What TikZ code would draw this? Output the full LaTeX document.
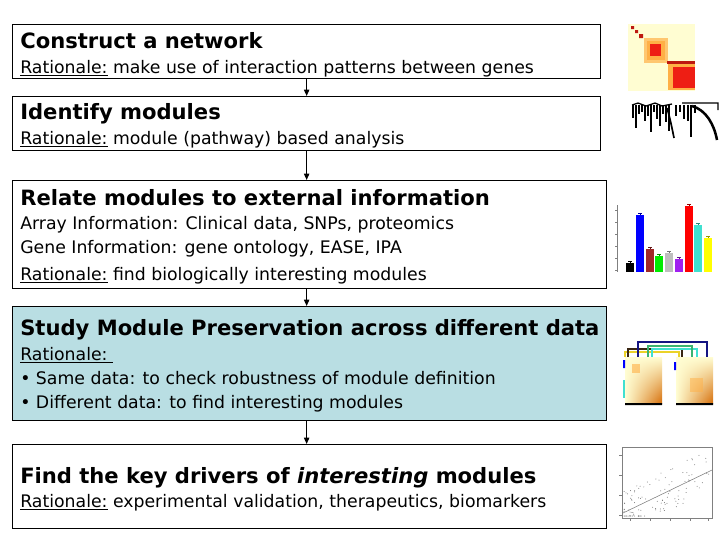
\documentclass[tikz,border=0pt]{standalone}
\usepackage{fontspec}
\setmainfont{DejaVu Sans}
\usepackage{tikz}
\usetikzlibrary{positioning,arrows.meta,shadings}
\usepackage{xcolor}
\definecolor{preservebg}{RGB}{185,222,227}
\definecolor{heatpale}{RGB}{255,253,210}
\definecolor{heatmid}{RGB}{255,176,70}
\definecolor{heatred}{RGB}{238,30,20}
\definecolor{heatdeep}{RGB}{214,110,10}
\definecolor{barblue}{RGB}{0,0,255}
\definecolor{barbrown}{RGB}{160,40,40}
\definecolor{bargreen}{RGB}{0,235,0}
\definecolor{bargray}{RGB}{190,190,190}
\definecolor{barpurple}{RGB}{160,32,240}
\definecolor{barcyan}{RGB}{64,224,208}
\definecolor{baryellow}{RGB}{255,255,0}
\definecolor{linknavy}{RGB}{20,20,130}
\definecolor{linkgreen}{RGB}{60,179,113}
\definecolor{linkgold}{RGB}{235,210,40}

\begin{document}
\begin{tikzpicture}[x=0.025cm,y=-0.025cm,
  stage/.style={draw=black,line width=0.8pt,anchor=north west,inner sep=0pt},
  headline/.style={anchor=base west,inner sep=0pt,font=\fontsize{15}{18}\selectfont\bfseries},
  detail/.style={anchor=base west,inner sep=0pt,font=\fontsize{12.3}{15}\selectfont},
  flow/.style={-{Triangle[length=4.5pt,width=3.8pt]},line width=0.8pt}]
\useasboundingbox (0,0) rectangle (720,540);

\node[stage,minimum width=14.7cm,minimum height=1.35cm] (network) at (12,24) {};
\node[stage,minimum width=14.7cm,minimum height=1.35cm] (modules) at (12,96) {};
\node[stage,minimum width=14.85cm,minimum height=2.7cm] (external) at (12,180) {};
\node[stage,fill=preservebg,minimum width=14.85cm,minimum height=2.85cm] (preserve) at (12,306) {};
\node[stage,minimum width=14.85cm,minimum height=2.1cm] (drivers) at (12,444) {};

\node[headline] (networkT) at (20,48) {Construct a network};
\node[detail] (networkR) at (20,73) {\underline{Rationale:} make use of interaction patterns between genes};
\node[headline] (modulesT) at (20,119) {Identify modules};
\node[detail] (modulesR) at (20,144) {\underline{Rationale:} module (pathway) based analysis};
\node[headline] (externalT) at (20,205) {Relate modules to external information};
\node[detail] (externalA) at (20,229) {Array Information: Clinical data, SNPs, proteomics};
\node[detail] (externalG) at (20,253) {Gene Information: gene ontology, EASE, IPA};
\node[detail] (externalR) at (20,280) {\underline{Rationale:} find biologically interesting modules};
\node[headline] (preserveT) at (20,335) {Study Module Preservation across different data};
\node[detail] (preserveR) at (20,360) {\underline{Rationale:\ }};
\node[detail] (preserveS) at (20,384) {• Same data: to check robustness of module definition};
\node[detail] (preserveD) at (20,408) {• Different data: to find interesting modules};
\node[headline] (driversT) at (20,483) {Find the key drivers of \textit{interesting} modules};
\node[detail] (driversR) at (20,507) {\underline{Rationale:} experimental validation, therapeutics, biomarkers};

\draw[flow] (network.south) -- (modules.north);
\draw[flow] (modules.south) -- (modules.south |- external.north);
\draw[flow] (external.south -| network.south) -- (preserve.north -| network.south);
\draw[flow] (preserve.south -| network.south) -- (drivers.north -| network.south);

\fill[heatpale] (628,24) rectangle (695,91);
\fill[heatred!80!black] (631,26) rectangle (634,29) (635,30) rectangle (638,33) (639,34) rectangle (643,38);
\fill[heatmid!70!heatpale] (644,38) rectangle (668,63);
\fill[heatmid] (647,41) rectangle (665,60);
\fill[heatred] (650,44) rectangle (661,56);
\fill[heatred!80!black] (667,61) rectangle (695,64);
\fill[heatmid] (668,64) rectangle (695,90);
\fill[heatred] (673,67) rectangle (695,88);

\draw[line width=0.9pt] (632,105) -- (638,103) -- (646,106) -- (655,103) -- (662,106) -- (672,104) (682,103) -- (718,103) -- (718,110);
\foreach \lx/\lb in {633/118,636/128,639/114,642/112,645/121,648/116,651/132,654/112,657/119,660/126,663/114,666/122,669/131,676/116,680/112,684/119,688/121,691/137,695/113}
  \draw[line width=0.9pt] (\lx,105) -- (\lx,\lb);
\draw[line width=1.8pt] (692,106) .. controls (706,110) and (714,124) .. (717,140);
\draw[line width=1.2pt] (667,108) .. controls (670,118) and (672,128) .. (674,138);

\draw[gray,line width=0.3pt] (617,205) -- (617,272);
\foreach \ty in {210,222,234,246,258,270}
  \draw[gray,line width=0.3pt] (615,\ty) -- (617,\ty);
\foreach \bx/\bt/\bc in {626/263/black,636/215/barblue,646/249/barbrown,655/256/bargreen,665/253/bargray,675/259/barpurple,685/206/red,694/225/barcyan,704/238/baryellow}{
  \fill[\bc] (\bx,272) rectangle ++(8,\bt-272);
  \draw[\bc!60!black,line width=0.4pt] (\bx+2,\bt-2) -- (\bx+6,\bt-2) (\bx+4,\bt-2) -- (\bx+4,\bt);
}

\draw[linkgold,line width=0.9pt] (625,357) -- (625,352) -- (679,352) -- (679,357);
\draw[black!70!brown,line width=0.9pt] (628,357) -- (628,349) -- (682,349) -- (682,357);
\draw[barcyan,line width=0.9pt] (652,357) -- (652,349) -- (697,349) -- (697,357);
\draw[linkgreen,line width=0.9pt] (648,357) -- (648,346) -- (692,346) -- (692,357);
\draw[linknavy,line width=0.9pt] (638,357) -- (638,342) -- (707,342) -- (707,357);
\shade[upper left=heatpale,upper right=heatpale,lower left=heatpale,lower right=heatdeep] (625,357) rectangle (662,403);
\shade[upper left=heatpale,upper right=heatpale,lower left=heatpale,lower right=heatdeep] (676,357) rectangle (713,403);
\fill[heatmid,opacity=0.6] (632,364) rectangle (640,373);
\fill[heatmid,opacity=0.5] (690,378) rectangle (703,392);
\fill[barblue] (623,360) rectangle (625,368) (674,362) rectangle (676,370);
\fill[barcyan] (623,380) rectangle (625,398);
\fill[black] (625,403) rectangle (662,405) (676,403) rectangle (713,405);

\draw[gray,line width=0.3pt] (622,447) rectangle (712,518);
\foreach \tx in {630,650,670,690,708}
  \draw[gray,line width=0.3pt] (\tx,518) -- (\tx,521);
\foreach \ty in {455,475,495,515}
  \draw[gray,line width=0.3pt] (619,\ty) -- (622,\ty);
\draw[gray,line width=0.4pt] (623,513) -- (712,470);
\pgfmathsetseed{11}
\foreach \i in {1,...,110}{
  \pgfmathsetmacro{\px}{624+86*pow(rnd,1.5)}
  \pgfmathsetmacro{\py}{min(516,max(450,513-0.48*(\px-623)+22*rand))}
  \fill[black!55] (\px,\py) circle (0.35pt);
}
\end{tikzpicture}
\end{document}
